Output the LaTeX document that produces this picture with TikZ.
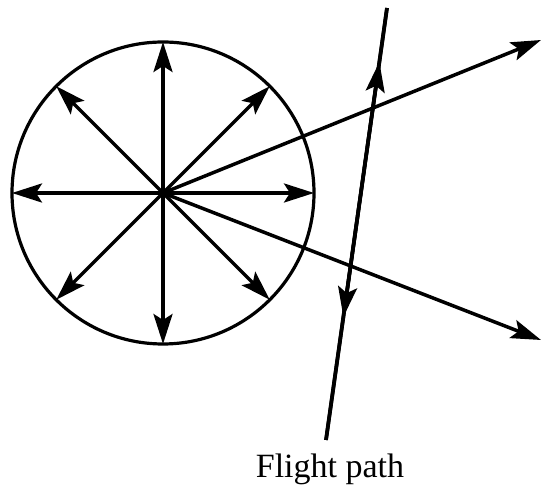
\documentclass[tikz,border=0pt]{standalone}
\usepackage{fontspec}
\setmainfont{Liberation Serif}
\usetikzlibrary{arrows.meta, positioning, calc}

\begin{document}
\begin{tikzpicture}[x=1pt, y=-1pt, line join=round,
    ray/.style={line width=3.5pt, -{Stealth[length=30pt, width=19pt, inset=6pt]}},
    track/.style={line width=3.8pt}]
    \useasboundingbox (0,0) rectangle (544,486);
    % Kugel mit Quelle in der Mitte
    \node[circle, draw, line width=3.2pt, minimum size=302pt, inner sep=0pt, outer sep=0pt] (S) at (163,193) {};
    \coordinate (C) at (S.center);
    \foreach \a in {0,45,...,315}
      \draw[ray] (C) -- (S.\a);
    % Strahlen nach rechts
    \coordinate (R1) at (541,40);
    \coordinate (R2) at (541,340);
    \draw[ray] (C) -- (R1);
    \draw[ray] (C) -- (R2);
    % Flugbahn
    \coordinate (F0) at (326,440);
    \coordinate (F1) at (387,8);
    \coordinate (Fup) at ($(F0)!0.875!(F1)$);
    \coordinate (Fdown) at ($(F1)!0.715!(F0)$);
    \draw[track] (F0) -- (F1);
    \draw[ray] (F0) -- (Fup);
    \draw[ray] (F1) -- (Fdown);
    % Beschriftung
    \node[below=10pt, xshift=4pt, font=\fontsize{34}{40}\selectfont] (L) at (F0) {Flight path};
\end{tikzpicture}
\end{document}
